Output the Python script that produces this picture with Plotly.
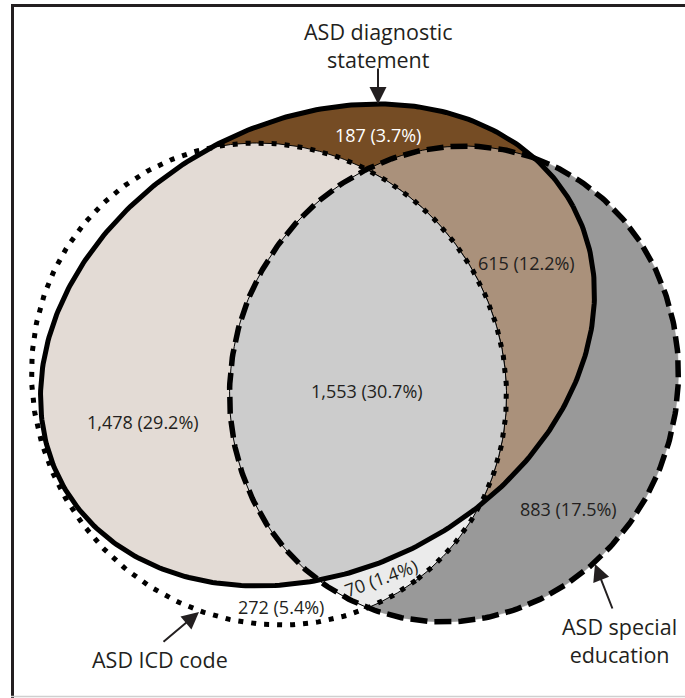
import numpy as np
import plotly.graph_objects as go

# ---------------- data ----------------
set_labels = ["ASD diagnostic<br>statement", "ASD ICD code", "ASD special<br>education"]
region_keys = ["icd_diag", "icd_only", "diag_only", "all3", "icd_sped", "diag_sped", "sped_only"]
region_counts = [1478, 272, 187, 1553, 70, 615, 883]
region_pcts = [29.2, 5.4, 3.7, 30.7, 1.4, 12.2, 17.5]

# ---------------- layout / geometry (pixels) ----------------
W, H = 685, 698
ELL = {
    "diag": dict(cx=317.5, cy=345.0, a=290.7, b=224.3, ang=-28.5),
    "icd": dict(cx=269.0, cy=384.0, a=245.3, b=233.1, ang=53.3),
    "sped": dict(cx=454.0, cy=384.0, a=239.8, b=222.5, ang=-70.65),
}
COLORS = {
    "diag_only": "#754C24",
    "icd_diag": "#E3DBD5",
    "all3": "#CCCCCC",
    "diag_sped": "#AA917B",
    "sped_only": "#999999",
    "icd_sped": "#EBEBEB",
}
LABEL_POS = {
    "icd_diag": (143, 422, 0),
    "icd_only": (281, 607, 0),
    "diag_only": (378, 135, 0),
    "all3": (367, 391, 0),
    "icd_sped": (381, 578, -20),
    "diag_sped": (526, 263, 0),
    "sped_only": (568, 509, 0),
}
SET_POS = [(378, 45), (160, 659), (619, 640)]
ARROWS = [((378, 104), (378, 67)), ((199, 612), (162, 643)), ((595, 564), (613, 610))]
INK = "#231F20"
FONT = "Open Sans"


def ellipse_pts(e, n=400):
    t = np.linspace(0, 2 * np.pi, n, endpoint=False)
    ang = np.deg2rad(e["ang"])
    ca, sa = np.cos(ang), np.sin(ang)
    x = e["cx"] + e["a"] * np.cos(t) * ca - e["b"] * np.sin(t) * sa
    y = e["cy"] + e["a"] * np.cos(t) * sa + e["b"] * np.sin(t) * ca
    return list(zip(x.tolist(), y.tolist()))


def orient(poly):
    s = 0.0
    for i in range(len(poly)):
        x1, y1 = poly[i]
        x2, y2 = poly[(i + 1) % len(poly)]
        s += x1 * y2 - x2 * y1
    return 1.0 if s > 0 else -1.0


def clip(subject, clipper):
    sg = orient(clipper)
    out = list(subject)
    n = len(clipper)
    for i in range(n):
        ax_, ay_ = clipper[i]
        bx_, by_ = clipper[(i + 1) % n]
        dx, dy = bx_ - ax_, by_ - ay_

        def side(p):
            return sg * (dx * (p[1] - ay_) - dy * (p[0] - ax_))

        inp = out
        out = []
        if not inp:
            break
        S = inp[-1]
        sS = side(S)
        for E in inp:
            sE = side(E)
            if sE >= 0:
                if sS < 0:
                    t = sS / (sS - sE)
                    out.append((S[0] + t * (E[0] - S[0]), S[1] + t * (E[1] - S[1])))
                out.append(E)
            elif sS >= 0:
                t = sS / (sS - sE)
                out.append((S[0] + t * (E[0] - S[0]), S[1] + t * (E[1] - S[1])))
            S, sS = E, sE
    return out


D = ellipse_pts(ELL["diag"])
I = ellipse_pts(ELL["icd"])
S = ellipse_pts(ELL["sped"])

I_S = clip(I, S)
D_S = clip(D, S)
I_D = clip(I, D)
I_D_S = clip(I_D, S)

fig = go.Figure()


def add_fill(poly, color, lw=0):
    xs = [p[0] for p in poly] + [poly[0][0]]
    ys = [p[1] for p in poly] + [poly[0][1]]
    fig.add_trace(go.Scatter(x=xs, y=ys, mode="lines", fill="toself", fillcolor=color,
                             line=dict(color="#000000" if lw else color, width=lw if lw else 0.5),
                             hoverinfo="skip", showlegend=False))


add_fill(S, COLORS["sped_only"])
add_fill(D, COLORS["diag_only"])
add_fill(I_S, COLORS["icd_sped"], 1)
add_fill(D_S, COLORS["diag_sped"], 1)
add_fill(I_D, COLORS["icd_diag"], 1)
add_fill(I_D_S, COLORS["all3"], 1)


def add_outline(poly, dash, width):
    xs = [p[0] for p in poly] + [poly[0][0]]
    ys = [p[1] for p in poly] + [poly[0][1]]
    fig.add_trace(go.Scatter(x=xs, y=ys, mode="lines",
                             line=dict(color="#000000", width=width, dash=dash),
                             hoverinfo="skip", showlegend=False))


add_outline(I, "5px,8px", 5)
add_outline(S, "17px,7px", 5.5)
add_outline(D, "solid", 5)

annotations = []
for key, cnt, pct in zip(region_keys, region_counts, region_pcts):
    x, y, rot = LABEL_POS[key]
    annotations.append(dict(
        x=x, y=y, xref="x", yref="y", showarrow=False,
        text=f"{cnt:,} ({pct}%)", textangle=rot,
        font=dict(family=FONT, size=18, color="#FFFFFF" if key == "diag_only" else INK),
    ))

for txt, (x, y) in zip(set_labels, SET_POS):
    annotations.append(dict(x=x, y=y, xref="x", yref="y", showarrow=False, text=txt,
                            font=dict(family=FONT, size=21.5, color=INK)))

for (tx, ty), (sx, sy) in ARROWS:
    annotations.append(dict(x=tx, y=ty, ax=sx, ay=sy, xref="x", yref="y", axref="x", ayref="y",
                            text="", showarrow=True, arrowhead=2, arrowsize=1.7, arrowwidth=2,
                            arrowcolor=INK, standoff=0, startstandoff=0))

shapes = [
    dict(type="line", x0=12.5, y0=698, x1=12.5, y1=5.5, xref="x", yref="y", line=dict(color=INK, width=3)),
    dict(type="line", x0=11, y0=5.5, x1=685, y1=5.5, xref="x", yref="y", line=dict(color=INK, width=3)),
    dict(type="line", x0=11, y0=696.5, x1=685, y1=696.5, xref="x", yref="y", line=dict(color="#CFCFCF", width=1.5)),
]

fig.update_layout(
    width=W, height=H, margin=dict(l=0, r=0, t=0, b=0),
    paper_bgcolor="white", plot_bgcolor="white",
    xaxis=dict(range=[0, W], visible=False, fixedrange=True),
    yaxis=dict(range=[H, 0], visible=False, fixedrange=True),
    annotations=annotations, shapes=shapes, showlegend=False,
)
fig.write_html("out.html", config={"displayModeBar": False},
               post_script="document.body.style.margin='0';document.body.style.overflow='hidden';")
